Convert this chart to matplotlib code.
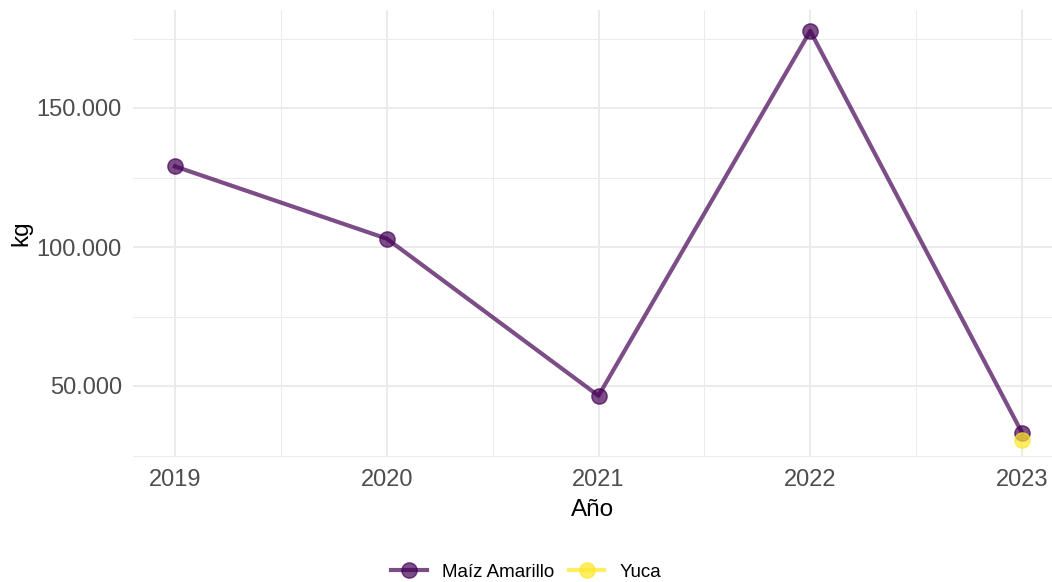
import matplotlib
matplotlib.use("Agg")
import matplotlib.pyplot as plt
from matplotlib.ticker import FuncFormatter, MultipleLocator
from matplotlib.lines import Line2D

years = [2019, 2020, 2021, 2022, 2023]
maiz = [129000, 103000, 46500, 177700, 33200]
yuca_years = [2023]
yuca = [30700]
series_names = ["Maíz Amarillo", "Yuca"]
colors = ["#440154", "#FDE725"]

plt.rcParams['font.family'] = ['Liberation Sans', 'DejaVu Sans']

fig = plt.figure(figsize=(10.52, 5.82), dpi=100)
ax = fig.add_axes([133/1052, 1-457/582, (1052-133)/1052, (457-10)/582])

ax.plot(years, maiz, color=colors[0], alpha=0.7, lw=3, marker='o', ms=11, zorder=3)
ax.plot(yuca_years, yuca, color=colors[1], alpha=0.7, lw=3, marker='o', ms=11, zorder=3)

ax.set_xlim(2019 - 42/211.75, 2023 + 30/211.75)
ax.set_ylim(100000 - 210*50000/139, 100000 + 237*50000/139)
ax.xaxis.set_major_locator(MultipleLocator(1))
ax.xaxis.set_minor_locator(MultipleLocator(0.5))
ax.yaxis.set_major_locator(MultipleLocator(50000))
ax.yaxis.set_minor_locator(MultipleLocator(25000))
ax.yaxis.set_major_formatter(FuncFormatter(lambda v, p: f"{int(v):,}".replace(",", ".")))
ax.xaxis.set_major_formatter(FuncFormatter(lambda v, p: f"{int(round(v))}"))

ax.grid(which='major', color='#EBEBEB', lw=1.4)
ax.grid(which='minor', color='#EBEBEB', lw=0.7)
ax.set_axisbelow(True)
for s in ax.spines.values():
    s.set_visible(False)
ax.tick_params(which='both', length=0)
ax.tick_params(axis='x', labelsize=17, labelcolor='#4D4D4D', pad=9)
ax.tick_params(axis='y', labelsize=17, labelcolor='#4D4D4D', pad=8)
ax.set_xlabel("Año", fontsize=17.5, color='black', labelpad=5.5)
ax.set_ylabel("kg", fontsize=17.5, color='black', labelpad=3)

handles = [Line2D([], [], color=c, alpha=0.7, lw=3, marker='o', ms=11) for c in colors]
fig.legend(handles, series_names, loc='center', bbox_to_anchor=(0.5, 1-572/582),
           ncol=2, frameon=False, fontsize=13.5, handlelength=1.9, columnspacing=0.8,
           handletextpad=0.8)

fig.savefig("out.png", dpi=100)
